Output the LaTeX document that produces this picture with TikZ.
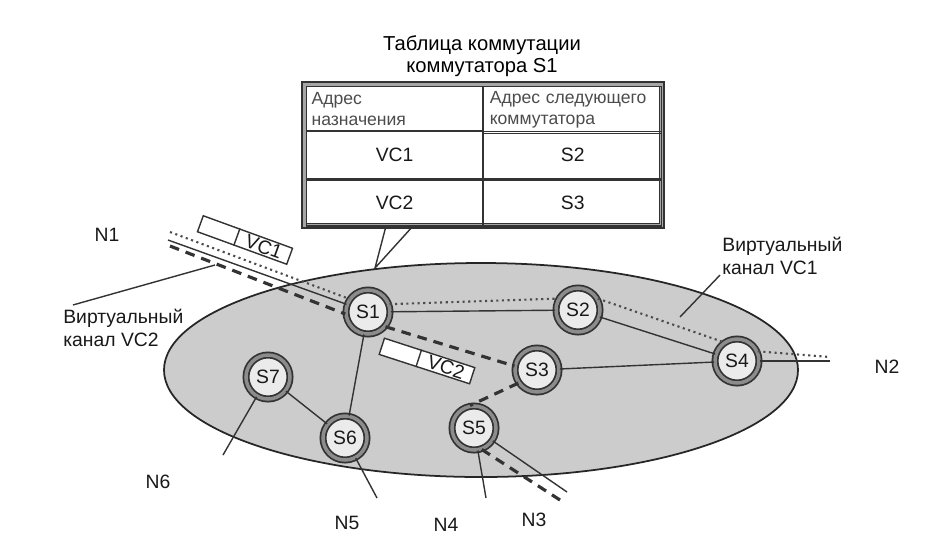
\documentclass[tikz,border=0pt]{standalone}
\usepackage{fontspec}
\setmainfont{Liberation Sans}
\usetikzlibrary{calc}

\begin{document}
\begin{tikzpicture}[x=0.02cm, y=-0.02cm,
  switch/.style={circle, draw=black!80, line width=1pt, double=black!45, double distance=2pt, fill=black!8, minimum size=0.88cm, inner sep=0pt, font=\fontsize{11}{12}\selectfont, text=black!90},
  link/.style={draw=black!80, line width=0.8pt},
  vcone/.style={draw=black!70, line width=1.2pt, dotted},
  vctwo/.style={draw=black!80, line width=1.8pt, dash pattern=on 5.5pt off 4pt},
  tagbox/.style={rectangle, draw=black!80, line width=0.8pt, fill=white, minimum width=1.9cm, minimum height=0.34cm, inner sep=0pt, font=\fontsize{11}{12}\selectfont, text=black!90},
  cell/.style={rectangle, draw=black!80, line width=0.7pt, anchor=north west, inner sep=0.1cm, text=black!90, font=\fontsize{11}{13}\selectfont},
  headcell/.style={cell, align=left, text width=3.32cm, text=black!70, font=\fontsize{10}{12}\selectfont},
  lbl/.style={font=\fontsize{11}{13}\selectfont, text=black!90, inner sep=0pt, align=left},
]
\useasboundingbox (0,0) rectangle (928,555);
\fill[white] (0,0) rectangle (928,555);

% network area
\draw[fill=black!20, draw=black!85, line width=1pt] (481,370) ellipse [x radius=317, y radius=107];

% switching table of S1
\node[font=\fontsize{11.5}{12.5}\selectfont, align=center] (title) at (482,56) {Таблица коммутации\\коммутатора S1};
\node[rectangle, draw=black!80, line width=0.8pt, double=black!35, double distance=1.6pt, fill=white, minimum width=7.15cm, minimum height=2.83cm] (tab) at (483,155) {};
\node[headcell, minimum width=3.52cm, minimum height=0.88cm] (hdst) at (306,86) {Адрес\\назначения};
\node[headcell, minimum width=3.56cm, minimum height=0.88cm] (hnext) at (hdst.north east) {Адрес следующего\\коммутатора};
\node[cell, minimum width=3.52cm, minimum height=0.94cm] (rvca) at (hdst.south west) {VC1};
\node[cell, minimum width=3.56cm, minimum height=0.94cm] (rsa) at (rvca.north east) {S2};
\node[cell, minimum width=3.52cm, minimum height=0.92cm] (rvcb) at (rvca.south west) {VC2};
\node[cell, minimum width=3.56cm, minimum height=0.92cm] (rsb) at (rvcb.north east) {S3};

% callout
\coordinate (calla) at (386,226);
\coordinate (callb) at (413,226);
\coordinate (tip) at (375,268);
\draw[link] (calla) -- (tip) -- (callb);

% switches
\node[switch] (s1) at (368,312) {S1};
\node[switch] (s2) at (578,310) {S2};
\node[switch] (s3) at (537,370) {S3};
\node[switch] (s4) at (737,361) {S4};
\node[switch] (s5) at (474,428) {S5};
\node[switch] (s6) at (345,438) {S6};
\node[switch] (s7) at (268,377) {S7};

% free ends
\coordinate (n1vc1) at (170,232);
\coordinate (n1end) at (168,240);
\coordinate (n1vc2) at (170,246);
\coordinate (n2vc1) at (830,357);
\coordinate (n2end) at (830,361);
\coordinate (n3end) at (567,492);
\coordinate (n3vc2) at (560,500);
\coordinate (n4end) at (486,498);
\coordinate (n5end) at (377,498);
\coordinate (n6end) at (223,455);

% links
\draw[link] (n1end) -- (s1);
\draw[link] (s1) -- (s2);
\draw[link] (s2) -- (s4);
\draw[link] (s3) -- (s4);
\draw[link] (s1) -- (s6);
\draw[link] (s7) -- (s6);
\draw[link] (s4) -- (n2end);
\draw[link] (s5) -- (n3end);
\draw[link] (s5) -- (n4end);
\draw[link] (s6) -- (n5end);
\draw[link] (s7) -- (n6end);

% virtual channel VC1
\draw[vcone] (n1vc1) -- (s1.145);
\draw[vcone] (s1.20) -- (s2.150);
\draw[vcone] (s2.30) -- (s4.125);
\draw[vcone] (s4.25) -- (n2vc1);

% virtual channel VC2
\draw[vctwo] (n1vc2) -- (s1.185);
\draw[vctwo] (s1.-40) -- (s3.170);
\draw[vctwo] (s3.215) -- (s5.100);
\draw[vctwo] (s5.-70) -- (n3vc2);

% packets
\node[tagbox, rotate=-20] (pkta) at (245,240) {\hspace*{0.8cm}\makebox[1.1cm]{VC1}};
\draw[link] ($(pkta.north west)!0.41!(pkta.north east)$) -- ($(pkta.south west)!0.41!(pkta.south east)$);
\node[tagbox, rotate=-18] (pktb) at (427,361) {\hspace*{0.8cm}\makebox[1.1cm]{VC2}};
\draw[link] ($(pktb.north west)!0.41!(pktb.north east)$) -- ($(pktb.south west)!0.41!(pktb.south east)$);

% labels
\node[lbl] (n1) at (107,235) {N1};
\node[lbl] (n2) at (887,367) {N2};
\node[lbl] (n3) at (534,520) {N3};
\node[lbl] (n4) at (446,525) {N4};
\node[lbl] (n5) at (347,523) {N5};
\node[lbl] (n6) at (158,482) {N6};
\node[lbl, anchor=west] (vctwolbl) at (63,328) {Виртуальный\\канал VC2};
\node[lbl, anchor=west] (vconelbl) at (722,256) {Виртуальный\\канал VC1};
\coordinate (vctwoptr) at (215,265);
\coordinate (vconeptr) at (680,317);
\draw[link] ([xshift=0.2cm, yshift=0.08cm]vctwolbl.north west) -- (vctwoptr);
\draw[link] ([xshift=-0.04cm]vconelbl.south west) -- (vconeptr);
\end{tikzpicture}
\end{document}
